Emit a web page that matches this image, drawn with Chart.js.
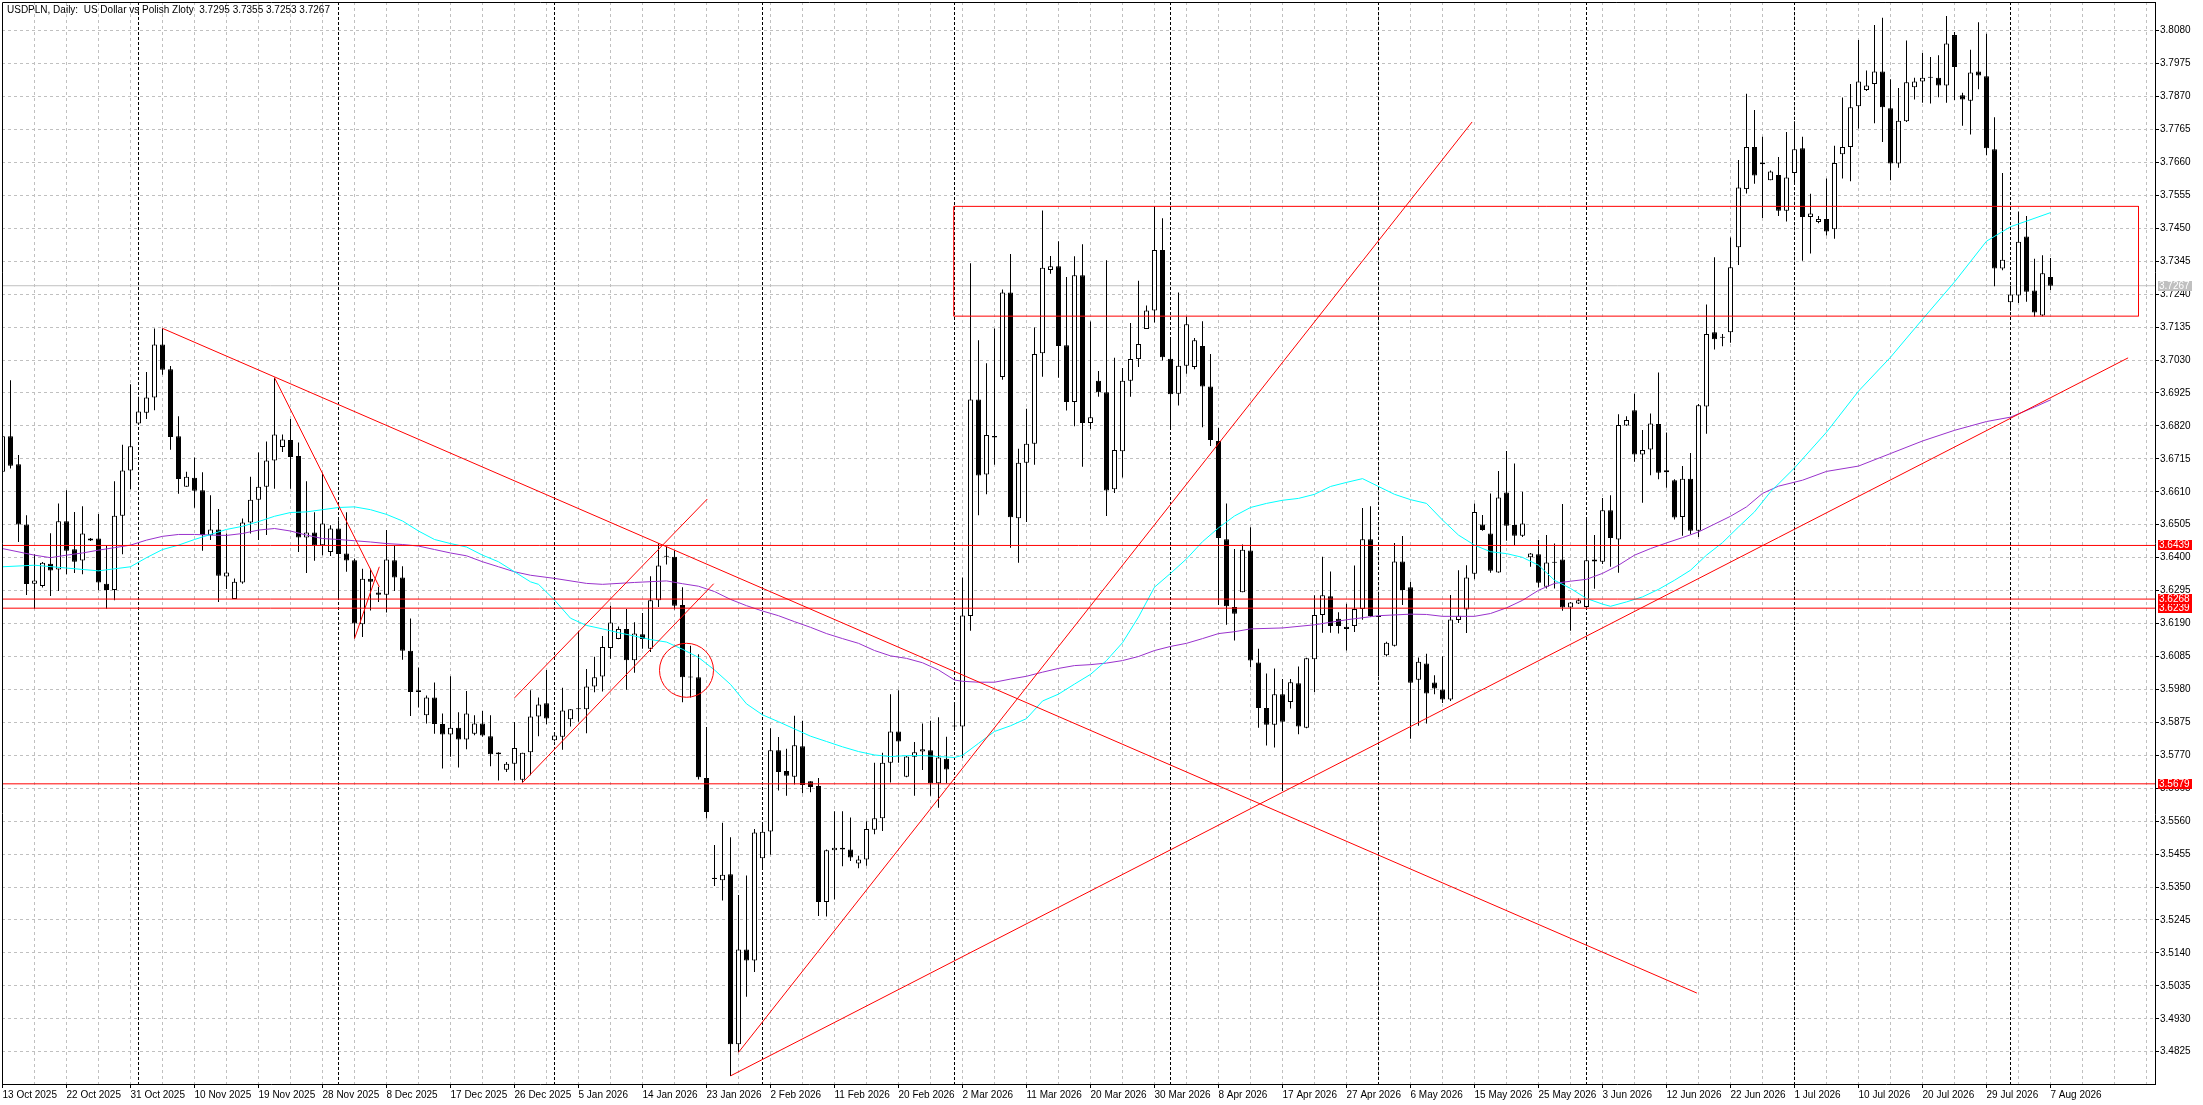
<!DOCTYPE html>
<html lang="en">
<head>
<meta charset="UTF-8">
<title>USDPLN, Daily</title>
<script src="https://cdn.jsdelivr.net/npm/chart.js"></script>
<style>
  html, body { margin: 0; padding: 0; background: #fff; overflow: hidden; }
  #chart { display: block; }
</style>
</head>
<body>
<canvas id="chart" width="2203" height="1105"></canvas>
<script>
// one bar per trading day (Sun-Fri), label on every 8th bar
const dateLabels = ['13 Oct 2025', '22 Oct 2025', '31 Oct 2025', '10 Nov 2025', '19 Nov 2025', '28 Nov 2025',
  '8 Dec 2025', '17 Dec 2025', '26 Dec 2025', '5 Jan 2026', '14 Jan 2026', '23 Jan 2026', '2 Feb 2026',
  '11 Feb 2026', '20 Feb 2026', '2 Mar 2026', '11 Mar 2026', '20 Mar 2026', '30 Mar 2026', '8 Apr 2026',
  '17 Apr 2026', '27 Apr 2026', '6 May 2026', '15 May 2026', '25 May 2026', '3 Jun 2026', '12 Jun 2026',
  '22 Jun 2026', '1 Jul 2026', '10 Jul 2026', '20 Jul 2026', '29 Jul 2026', '7 Aug 2026'];
const labelStep = 8;
// first bar of each month (period separators)
const monthStarts = [17, 42, 69, 95, 119, 146, 172, 198, 224, 251];

const yTicks = [3.8080, 3.7975, 3.7870, 3.7765, 3.7660, 3.7555, 3.7450, 3.7345, 3.7240, 3.7135, 3.7030,
  3.6925, 3.6820, 3.6715, 3.6610, 3.6505, 3.6400, 3.6295, 3.6190, 3.6085, 3.5980, 3.5875, 3.5770, 3.5665,
  3.5560, 3.5455, 3.5350, 3.5245, 3.5140, 3.5035, 3.4930, 3.4825];

const opens = [
  3.6674, 3.6787, 3.6698, 3.6506, 3.6317, 3.6310, 3.6381, 3.6362, 3.6516, 3.6427,
  3.6391, 3.6455, 3.6461, 3.6317, 3.6297, 3.6534, 3.6678, 3.6828, 3.6862, 3.6911,
  3.7080, 3.7001, 3.6787, 3.6626, 3.6655, 3.6615, 3.6472, 3.6490, 3.6340, 3.6268,
  3.6321, 3.6512, 3.6585, 3.6626, 3.6710, 3.6753, 3.6775, 3.6724, 3.6464, 3.6480,
  3.6440, 3.6418, 3.6493, 3.6413, 3.6392, 3.6188, 3.6333, 3.6289, 3.6282, 3.6392,
  3.6337, 3.6103, 3.5977, 3.5898, 3.5954, 3.5870, 3.5836, 3.5858, 3.5820, 3.5839,
  3.5871, 3.5831, 3.5773, 3.5724, 3.5743, 3.5692, 3.5780, 3.5894, 3.5936, 3.5818,
  3.5829, 3.5885, 3.5917, 3.5917, 3.5989, 3.6021, 3.6112, 3.6141, 3.6173, 3.6073,
  3.6156, 3.6110, 3.6264, 3.6403, 3.6403, 3.6249, 3.6019, 3.6019, 3.5698, 3.5380,
  3.5372, 3.5391, 3.4849, 3.5151, 3.5116, 3.5442, 3.5527, 3.5786, 3.5720, 3.5702,
  3.5799, 3.5687, 3.5672, 3.5302, 3.5467, 3.5475, 3.5470, 3.5425, 3.5438, 3.5533,
  3.5569, 3.5746, 3.5846, 3.5702, 3.5765, 3.5782, 3.5786, 3.5681, 3.5759, 3.5864,
  3.5862, 3.6214, 3.6904, 3.6665, 3.6788, 3.6976, 3.7245, 3.6526, 3.6703, 3.6763,
  3.7052, 3.7317, 3.7329, 3.7077, 3.6896, 3.7300, 3.6829, 3.6964, 3.6927, 3.6618,
  3.6739, 3.6964, 3.7033, 3.7129, 3.7188, 3.7381, 3.7034, 3.6923, 3.7012, 3.7008,
  3.7075, 3.6946, 3.6772, 3.6459, 3.6243, 3.6290, 3.6423, 3.6066, 3.5921, 3.5867,
  3.5965, 3.5940, 3.6000, 3.5858, 3.6076, 3.6217, 3.6277, 3.6205, 3.6180, 3.6182,
  3.6236, 3.6459, 3.6214, 3.6089, 3.6119, 3.6388, 3.6306, 3.6011, 3.6063, 3.6002,
  3.5980, 3.5948, 3.6201, 3.6235, 3.6349, 3.6506, 3.6477, 3.6353, 3.6608, 3.6504,
  3.6470, 3.6401, 3.6411, 3.6307, 3.6387, 3.6394, 3.6241, 3.6254, 3.6243, 3.6394,
  3.6387, 3.6551, 3.6458, 3.6821, 3.6870, 3.6729, 3.6745, 3.6826, 3.6672, 3.6647,
  3.6530, 3.6652, 3.6486, 3.6882, 3.7119, 3.7102, 3.7119, 3.7390, 3.7575, 3.7709,
  3.7660, 3.7603, 3.7620, 3.7506, 3.7626, 3.7705, 3.7486, 3.7470, 3.7480, 3.7447,
  3.7686, 3.7709, 3.7839, 3.7891, 3.7910, 3.7950, 3.7833, 3.7657, 3.7791, 3.7900,
  3.7918, 3.7930, 3.7930, 3.7905, 3.8066, 3.7874, 3.7857, 3.7950, 3.7935, 3.7702,
  3.7322, 3.7214, 3.7236, 3.7424, 3.7252, 3.7172, 3.7295];
const highs = [
  3.6795, 3.6966, 3.6727, 3.6535, 3.6411, 3.6386, 3.6478, 3.6573, 3.6615, 3.6546,
  3.6564, 3.6463, 3.6539, 3.6440, 3.6644, 3.6760, 3.6953, 3.6913, 3.6992, 3.7131,
  3.7131, 3.7011, 3.6851, 3.6674, 3.6719, 3.6672, 3.6599, 3.6555, 3.6477, 3.6334,
  3.6525, 3.6658, 3.6735, 3.6770, 3.6974, 3.6793, 3.6842, 3.6767, 3.6644, 3.6545,
  3.6671, 3.6503, 3.6519, 3.6545, 3.6397, 3.6365, 3.6365, 3.6307, 3.6488, 3.6438,
  3.6373, 3.6206, 3.6050, 3.5961, 3.6002, 3.5903, 3.6022, 3.5907, 3.5975, 3.5898,
  3.5911, 3.5898, 3.5780, 3.5749, 3.5876, 3.5778, 3.5977, 3.5954, 3.6042, 3.5835,
  3.5985, 3.5917, 3.6167, 3.6045, 3.6084, 3.6150, 3.6247, 3.6181, 3.6236, 3.6194,
  3.6224, 3.6341, 3.6446, 3.6435, 3.6423, 3.6306, 3.6119, 3.6092, 3.5860, 3.5484,
  3.5555, 3.5509, 3.5325, 3.5387, 3.5535, 3.5550, 3.5856, 3.5828, 3.5791, 3.5896,
  3.5880, 3.5687, 3.5698, 3.5470, 3.5592, 3.5592, 3.5572, 3.5450, 3.5560, 3.5746,
  3.5778, 3.5965, 3.5977, 3.5768, 3.5812, 3.5871, 3.5880, 3.5891, 3.5829, 3.5931,
  3.6337, 3.7339, 3.7093, 3.7020, 3.7131, 3.7255, 3.7368, 3.6747, 3.6875, 3.7134,
  3.7507, 3.7362, 3.7409, 3.7295, 3.7361, 3.7399, 3.7153, 3.6995, 3.7348, 3.7037,
  3.7005, 3.7148, 3.7283, 3.7204, 3.7520, 3.7482, 3.7102, 3.7245, 3.7169, 3.7100,
  3.7154, 3.7049, 3.6814, 3.6573, 3.6428, 3.6442, 3.6497, 3.6110, 3.6031, 3.6047,
  3.6013, 3.6013, 3.6053, 3.6081, 3.6280, 3.6403, 3.6356, 3.6226, 3.6253, 3.6375,
  3.6558, 3.6564, 3.6280, 3.6132, 3.6447, 3.6469, 3.6323, 3.6082, 3.6094, 3.6025,
  3.6086, 3.6281, 3.6360, 3.6376, 3.6573, 3.6536, 3.6605, 3.6676, 3.6740, 3.6700,
  3.6610, 3.6415, 3.6456, 3.6472, 3.6445, 3.6571, 3.6259, 3.6270, 3.6525, 3.6472,
  3.6590, 3.6599, 3.6857, 3.6851, 3.6923, 3.6807, 3.6860, 3.6990, 3.6799, 3.6650,
  3.6692, 3.6734, 3.6890, 3.7207, 3.7358, 3.7113, 3.7421, 3.7668, 3.7879, 3.7827,
  3.7742, 3.7634, 3.7677, 3.7757, 3.7791, 3.7742, 3.7560, 3.7489, 3.7609, 3.7713,
  3.7867, 3.7910, 3.8050, 3.7953, 3.8098, 3.8121, 3.7925, 3.7897, 3.8049, 3.7930,
  3.8009, 3.7996, 3.8002, 3.8127, 3.8076, 3.7882, 3.8019, 3.8107, 3.8070, 3.7804,
  3.7626, 3.7267, 3.7504, 3.7489, 3.7353, 3.7364, 3.7355];
const lows = [
  3.6665, 3.6684, 3.6450, 3.6281, 3.6237, 3.6305, 3.6278, 3.6294, 3.6347, 3.6351,
  3.6347, 3.6453, 3.6296, 3.6237, 3.6264, 3.6411, 3.6618, 3.6826, 3.6842, 3.6870,
  3.6983, 3.6744, 3.6604, 3.6626, 3.6559, 3.6422, 3.6456, 3.6259, 3.6300, 3.6268,
  3.6317, 3.6477, 3.6456, 3.6472, 3.6620, 3.6737, 3.6620, 3.6418, 3.6351, 3.6390,
  3.6408, 3.6405, 3.6268, 3.6355, 3.6142, 3.6147, 3.6232, 3.6259, 3.6225, 3.6294,
  3.6075, 3.5895, 3.5922, 3.5871, 3.5839, 3.5728, 3.5765, 3.5731, 3.5789, 3.5834,
  3.5829, 3.5735, 3.5690, 3.5717, 3.5690, 3.5683, 3.5706, 3.5831, 3.5869, 3.5815,
  3.5788, 3.5862, 3.5877, 3.5840, 3.5971, 3.5973, 3.6078, 3.6140, 3.5979, 3.6033,
  3.6110, 3.6099, 3.6243, 3.6378, 3.6235, 3.5939, 3.5954, 3.5693, 3.5569, 3.5353,
  3.5307, 3.4748, 3.4824, 3.5000, 3.5079, 3.5408, 3.5453, 3.5658, 3.5641, 3.5677,
  3.5649, 3.5652, 3.5258, 3.5256, 3.5310, 3.5416, 3.5433, 3.5410, 3.5418, 3.5518,
  3.5529, 3.5683, 3.5746, 3.5700, 3.5641, 3.5723, 3.5641, 3.5603, 3.5681, 3.5848,
  3.5761, 3.6167, 3.6535, 3.6602, 3.6696, 3.6967, 3.6432, 3.6384, 3.6514, 3.6696,
  3.6977, 3.7305, 3.6974, 3.6869, 3.6819, 3.6690, 3.6810, 3.6913, 3.6533, 3.6606,
  3.6656, 3.6913, 3.7008, 3.7129, 3.7150, 3.7029, 3.6807, 3.6885, 3.6986, 3.7001,
  3.6816, 3.6756, 3.6249, 3.6186, 3.6136, 3.6290, 3.6051, 3.5858, 3.5801, 3.5795,
  3.5656, 3.5919, 3.5837, 3.5856, 3.5972, 3.6161, 3.6161, 3.6158, 3.6104, 3.6163,
  3.6202, 3.6211, 3.6022, 3.6085, 3.6117, 3.6249, 3.5823, 3.5864, 3.5871, 3.5965,
  3.5937, 3.5943, 3.6192, 3.6160, 3.6331, 3.6486, 3.6352, 3.6352, 3.6454, 3.6440,
  3.6466, 3.6371, 3.6305, 3.6302, 3.6302, 3.6231, 3.6167, 3.6252, 3.6235, 3.6301,
  3.6380, 3.6371, 3.6352, 3.6820, 3.6706, 3.6575, 3.6663, 3.6650, 3.6623, 3.6522,
  3.6470, 3.6475, 3.6466, 3.6795, 3.7064, 3.7074, 3.7085, 3.7333, 3.7561, 3.7592,
  3.7483, 3.7603, 3.7489, 3.7472, 3.7589, 3.7347, 3.7370, 3.7466, 3.7427, 3.7417,
  3.7609, 3.7600, 3.7768, 3.7888, 3.7785, 3.7725, 3.7603, 3.7643, 3.7789, 3.7861,
  3.7850, 3.7848, 3.7868, 3.7850, 3.7859, 3.7777, 3.7749, 3.7893, 3.7683, 3.7265,
  3.7316, 3.7187, 3.7212, 3.7216, 3.7168, 3.7170, 3.7253];
const closes = [
  3.6787, 3.6693, 3.6506, 3.6316, 3.6327, 3.6384, 3.6359, 3.6516, 3.6422, 3.6387,
  3.6477, 3.6461, 3.6321, 3.6297, 3.6534, 3.6678, 3.6755, 3.6866, 3.6911, 3.7080,
  3.6999, 3.6785, 3.6651, 3.6658, 3.6613, 3.6472, 3.6490, 3.6342, 3.6353, 3.6323,
  3.6512, 3.6585, 3.6626, 3.6710, 3.6793, 3.6777, 3.6721, 3.6464, 3.6480, 3.6440,
  3.6509, 3.6493, 3.6412, 3.6391, 3.6190, 3.6333, 3.6323, 3.6282, 3.6394, 3.6337,
  3.6103, 3.5972, 3.5972, 3.5954, 3.5870, 3.5836, 3.5858, 3.5820, 3.5903, 3.5871,
  3.5833, 3.5773, 3.5779, 3.5743, 3.5793, 3.5778, 3.5894, 3.5932, 3.5887, 3.5833,
  3.5913, 3.5917, 3.5918, 3.5989, 3.6019, 3.6115, 3.6193, 3.6173, 3.6073, 3.6158,
  3.6141, 3.6264, 3.6375, 3.6403, 3.6247, 3.6019, 3.6018, 3.5700, 3.5589, 3.5376,
  3.5389, 3.4849, 3.5151, 3.5116, 3.5524, 3.5526, 3.5786, 3.5717, 3.5705, 3.5802,
  3.5675, 3.5669, 3.5302, 3.5467, 3.5475, 3.5470, 3.5444, 3.5438, 3.5535, 3.5569,
  3.5746, 3.5846, 3.5814, 3.5766, 3.5780, 3.5789, 3.5681, 3.5763, 3.5725, 3.5862,
  3.6216, 3.6904, 3.6662, 3.6791, 3.6783, 3.7245, 3.6529, 3.6703, 3.6763, 3.7049,
  3.7324, 3.7329, 3.7075, 3.6896, 3.7300, 3.6829, 3.6848, 3.6927, 3.6614, 3.6743,
  3.6964, 3.7033, 3.7081, 3.7188, 3.7381, 3.7039, 3.6921, 3.7012, 3.7144, 3.7093,
  3.6946, 3.6775, 3.6463, 3.6245, 3.6221, 3.6425, 3.6072, 3.5921, 3.5867, 3.5965,
  3.5877, 3.6003, 3.5862, 3.6079, 3.6217, 3.6280, 3.6182, 3.6182, 3.6173, 3.6236,
  3.6459, 3.6214, 3.6211, 3.6129, 3.6388, 3.6297, 3.6001, 3.6068, 3.5967, 3.5983,
  3.5948, 3.6203, 3.6215, 3.6337, 3.6546, 3.6488, 3.6358, 3.6592, 3.6502, 3.6470,
  3.6509, 3.6413, 3.6320, 3.6385, 3.6384, 3.6241, 3.6257, 3.6264, 3.6392, 3.6388,
  3.6551, 3.6463, 3.6823, 3.6839, 3.6729, 3.6743, 3.6828, 3.6671, 3.6679, 3.6528,
  3.6652, 3.6486, 3.6886, 3.7113, 3.7096, 3.7101, 3.7326, 3.7580, 3.7709, 3.7618,
  3.7654, 3.7631, 3.7506, 3.7612, 3.7702, 3.7486, 3.7497, 3.7480, 3.7440, 3.7658,
  3.7709, 3.7836, 3.7918, 3.7905, 3.7950, 3.7836, 3.7657, 3.7793, 3.7916, 3.7918,
  3.7930, 3.7930, 3.7905, 3.8039, 3.7964, 3.7861, 3.7947, 3.7937, 3.7705, 3.7322,
  3.7350, 3.7239, 3.7407, 3.7248, 3.7182, 3.7307, 3.7267];

// moving averages (bar index, value)
const ma50Idx = [0, 4, 8, 12, 16, 18, 20, 22, 24, 26, 28, 30, 32, 34, 36, 38, 40, 42, 44, 46, 48, 50, 52, 54,
  56, 58, 60, 62, 64, 66, 67, 69, 71, 73, 75, 77, 79, 81, 83, 85, 87, 89, 91, 93, 95, 97, 99, 101, 103, 105,
  107, 109, 111, 113, 115, 117, 119, 120, 122, 124, 126, 128, 130, 132, 134, 136, 138, 140, 142, 144, 146,
  148, 150, 152, 154, 156, 158, 160, 162, 164, 166, 168, 170, 172, 174, 176, 178, 180, 182, 184, 186, 188,
  190, 192, 194, 196, 198, 200, 201, 203, 205, 207, 209, 211, 213, 215, 217, 219, 221, 224, 228, 232, 236,
  240, 244, 248, 251, 256];
const ma50Val = [3.6371, 3.6376, 3.6367, 3.6358, 3.6371, 3.6400, 3.6426, 3.6440, 3.6458, 3.6474, 3.6490,
  3.6500, 3.6515, 3.6532, 3.6544, 3.6546, 3.6553, 3.6560, 3.6562, 3.6553, 3.6538, 3.6517, 3.6485, 3.6458,
  3.6445, 3.6434, 3.6408, 3.6387, 3.6355, 3.6323, 3.6315, 3.6265, 3.6207, 3.6184, 3.6173, 3.6161, 3.6150,
  3.6139, 3.6131, 3.6108, 3.6082, 3.6042, 3.5996, 3.5934, 3.5899, 3.5877, 3.5854, 3.5831, 3.5814, 3.5797,
  3.5782, 3.5771, 3.5766, 3.5769, 3.5769, 3.5766, 3.5763, 3.5770, 3.5808, 3.5846, 3.5864, 3.5887, 3.5943,
  3.5965, 3.5997, 3.6028, 3.6072, 3.6129, 3.6211, 3.6306, 3.6350, 3.6396, 3.6451, 3.6495, 3.6533, 3.6560,
  3.6573, 3.6583, 3.6589, 3.6602, 3.6627, 3.6640, 3.6652, 3.6627, 3.6602, 3.6585, 3.6573, 3.6520, 3.6472,
  3.6440, 3.6419, 3.6413, 3.6401, 3.6376, 3.6328, 3.6302, 3.6270, 3.6252, 3.6245, 3.6259, 3.6275, 3.6299,
  3.6328, 3.6360, 3.6408, 3.6448, 3.6498, 3.6546, 3.6610, 3.6686, 3.6800, 3.6931, 3.7039, 3.7160, 3.7279,
  3.7409, 3.7455, 3.7500];
const ma100Idx = [0, 4, 6, 8, 10, 12, 14, 16, 18, 20, 22, 24, 26, 28, 30, 32, 34, 36, 38, 40, 42, 44, 46, 48,
  50, 52, 54, 56, 58, 60, 62, 64, 66, 69, 73, 75, 79, 83, 85, 87, 89, 91, 93, 95, 97, 99, 101, 103, 105, 107,
  109, 111, 113, 115, 117, 119, 120, 122, 124, 126, 128, 130, 132, 134, 136, 138, 140, 142, 144, 146, 148,
  150, 152, 154, 156, 160, 164, 168, 172, 176, 178, 180, 184, 186, 188, 190, 192, 194, 196, 198, 200, 202,
  204, 206, 208, 210, 212, 214, 216, 218, 220, 222, 225, 228, 232, 236, 240, 244, 248, 251, 254, 256];
const ma100Val = [3.6429, 3.6408, 3.6400, 3.6408, 3.6415, 3.6424, 3.6432, 3.6440, 3.6456, 3.6468, 3.6474,
  3.6474, 3.6472, 3.6471, 3.6477, 3.6488, 3.6493, 3.6485, 3.6472, 3.6461, 3.6458, 3.6454, 3.6450, 3.6445,
  3.6442, 3.6437, 3.6426, 3.6415, 3.6406, 3.6387, 3.6371, 3.6355, 3.6344, 3.6334, 3.6318, 3.6315, 3.6321,
  3.6326, 3.6317, 3.6309, 3.6292, 3.6267, 3.6247, 3.6230, 3.6215, 3.6196, 3.6178, 3.6158, 3.6142, 3.6127,
  3.6104, 3.6087, 3.6079, 3.6065, 3.6042, 3.6010, 3.6006, 3.6003, 3.6003, 3.6013, 3.6022, 3.6035, 3.6047,
  3.6056, 3.6059, 3.6064, 3.6072, 3.6085, 3.6104, 3.6117, 3.6127, 3.6142, 3.6158, 3.6164, 3.6173, 3.6176,
  3.6186, 3.6202, 3.6215, 3.6220, 3.6219, 3.6213, 3.6213, 3.6222, 3.6240, 3.6264, 3.6296, 3.6318, 3.6325,
  3.6331, 3.6350, 3.6376, 3.6408, 3.6429, 3.6447, 3.6464, 3.6482, 3.6507, 3.6532, 3.6562, 3.6605, 3.6628,
  3.6647, 3.6675, 3.6692, 3.6732, 3.6772, 3.6806, 3.6834, 3.6848, 3.6880, 3.6903];

// drawn objects: horizontal levels, trend lines [x1, y1, x2, y2], box, circle
const hLevels = [3.6439, 3.6268, 3.6239, 3.5679];
const lastPrice = 3.7267;
const trendLines = [
  [20, 3.7131, 211.8, 3.5012],
  [34, 3.6974, 47.1, 3.6307],
  [44, 3.6142, 47.1, 3.6371],
  [64.0, 3.5953, 88.1, 3.6587],
  [65, 3.5683, 88.9, 3.6317],
  [92, 3.4823, 183.7, 3.7789],
  [91, 3.4748, 265.7, 3.7037]
];
const boxX = [118.9, 267.0];
const boxY = [3.7170, 3.7520];
const circle = [85.5, 3.6041];

const titleText = 'USDPLN, Daily:  US Dollar vs Polish Zloty  3.7295 3.7355 3.7253 3.7267';

const FONT = '"Liberation Sans", Arial, sans-serif';
Chart.defaults.font.family = FONT;
Chart.defaults.font.size = 10;
Chart.defaults.color = '#000';

const xMin = -0.0625, xMax = 269.0625;   // 8 px per bar
const yMin = 3.47221, yMax = 3.81715;

const wicks = [], bodies = [], bodyFill = [];
for (let i = 0; i < closes.length; i++) {
  wicks.push({ x: i, y: [lows[i], highs[i]] });
  bodies.push({ x: i, y: [opens[i], closes[i]] });
  bodyFill.push(closes[i] < opens[i] ? '#000000' : '#ffffff');
}
const pts = (xs, ys) => xs.map((x, k) => ({ x: x, y: ys[k] }));

const lineSet = (data, color, order) => ({
  type: 'line', data: data, borderColor: color, borderWidth: 1, pointRadius: 0,
  fill: false, tension: 0, order: order, spanGaps: true
});

const datasets = [];
trendLines.forEach(t => datasets.push(lineSet([{ x: t[0], y: t[1] }, { x: t[2], y: t[3] }], '#ff0000', 0)));
hLevels.forEach(v => datasets.push(lineSet([{ x: xMin - 1, y: v }, { x: xMax + 1, y: v }], '#ff0000', 0)));
datasets.push(lineSet([
  { x: boxX[0], y: boxY[1] }, { x: boxX[1], y: boxY[1] }, { x: boxX[1], y: boxY[0] },
  { x: boxX[0], y: boxY[0] }, { x: boxX[0], y: boxY[1] }], '#ff0000', 0));
datasets.push({
  type: 'bubble', data: [{ x: circle[0], y: circle[1], r: 27 }],
  backgroundColor: 'rgba(0,0,0,0)', borderColor: '#ff0000', borderWidth: 1, order: 0
});
datasets.push(lineSet(pts(ma50Idx, ma50Val), '#00ffff', 1));
datasets.push(lineSet(pts(ma100Idx, ma100Val), '#9932cc', 1));
datasets.push({
  type: 'bar', data: bodies, backgroundColor: bodyFill, borderColor: '#000000', borderWidth: 1,
  borderSkipped: false, barThickness: 5, grouped: false, minBarLength: 1, inflateAmount: 0, order: 2
});
datasets.push({
  type: 'bar', data: wicks, backgroundColor: '#000000', borderWidth: 0,
  barThickness: 1, grouped: false, inflateAmount: 0, order: 3
});
datasets.push(lineSet([{ x: xMin - 1, y: lastPrice }, { x: xMax + 1, y: lastPrice }], '#c0c0c0', 4));

const overlay = {
  id: 'overlay',
  afterDraw(chart) {
    const { ctx, chartArea: a } = chart;
    const y = chart.scales.y;
    ctx.save();
    ctx.strokeStyle = '#000';
    ctx.lineWidth = 1;
    ctx.beginPath();
    ctx.moveTo(a.left + 0.5, a.bottom);
    ctx.lineTo(a.left + 0.5, a.top + 0.5);
    ctx.lineTo(a.right, a.top + 0.5);
    ctx.stroke();

    ctx.font = '10px ' + FONT;
    ctx.fillStyle = '#000';
    ctx.textAlign = 'left';
    ctx.textBaseline = 'alphabetic';
    ctx.fillText(titleText, 7, 13);

    const tag = (v, bg) => {
      const py = Math.round(y.getPixelForValue(v));
      ctx.fillStyle = bg;
      ctx.fillRect(a.right + 3, py - 5, 34, 10);
      ctx.fillStyle = '#ffffff';
      ctx.textBaseline = 'middle';
      ctx.fillText(v.toFixed(4), a.right + 4, py + 0.5);
    };
    tag(lastPrice, '#c0c0c0');
    [3.5679, 3.6239, 3.6268, 3.6439].forEach(v => tag(v, '#ff0000'));
    ctx.restore();
  }
};

// keep the plot frame fixed: no automatic label padding
const noPad = s => { s.paddingLeft = 0; s.paddingRight = 0; s.paddingTop = 0; s.paddingBottom = 0; };

new Chart(document.getElementById('chart'), {
  type: 'bar',
  data: { datasets: datasets },
  plugins: [overlay],
  options: {
    responsive: false,
    devicePixelRatio: 1,
    animation: false,
    events: [],
    layout: { autoPadding: false, padding: { left: 2, top: 2, right: 0, bottom: 0 } },
    plugins: { legend: { display: false }, tooltip: { enabled: false }, title: { display: false } },
    scales: {
      x: {
        type: 'linear', position: 'bottom', min: xMin, max: xMax, offset: false,
        afterBuildTicks: s => { s.ticks = dateLabels.map((_, k) => ({ value: k * labelStep })); },
        afterFit: s => { s.height = 21; noPad(s); },
        ticks: {
          autoSkip: false, maxRotation: 0, minRotation: 0, align: 'start', padding: 1,
          color: '#000', callback: (v, k) => dateLabels[k]
        },
        grid: { offset: false, drawOnChartArea: false, drawTicks: true, tickLength: 4, tickColor: '#000' },
        border: { display: true, color: '#000', width: 1 }
      },
      xg: {
        type: 'linear', position: 'bottom', min: xMin, max: xMax, offset: false,
        afterBuildTicks: s => {
          const t = [];
          for (let v = 4; v <= xMax; v += 4) t.push({ value: v });
          s.ticks = t;
        },
        afterFit: s => { s.height = 0; noPad(s); },
        ticks: { display: false },
        grid: { offset: false, color: '#c0c0c0', lineWidth: 1, drawTicks: false },
        border: { display: false, dash: [3, 3] }
      },
      xm: {
        type: 'linear', position: 'bottom', min: xMin, max: xMax, offset: false,
        afterBuildTicks: s => { s.ticks = monthStarts.map(v => ({ value: v })); },
        afterFit: s => { s.height = 0; noPad(s); },
        ticks: { display: false },
        grid: { offset: false, color: '#000000', lineWidth: 1, drawTicks: false, z: 0 },
        border: { display: false, dash: [3, 2] }
      },
      y: {
        type: 'linear', position: 'right', min: yMin, max: yMax, beginAtZero: false,
        afterBuildTicks: s => { s.ticks = yTicks.map(v => ({ value: v })); },
        afterFit: s => { s.width = 48; noPad(s); },
        ticks: { autoSkip: false, padding: 1, color: '#000', callback: v => v.toFixed(4) },
        grid: { color: '#c0c0c0', lineWidth: 1, tickColor: '#000', tickLength: 4 },
        border: { display: true, color: '#000', width: 1, dash: [3, 3] }
      }
    }
  }
});
</script>
</body>
</html>
